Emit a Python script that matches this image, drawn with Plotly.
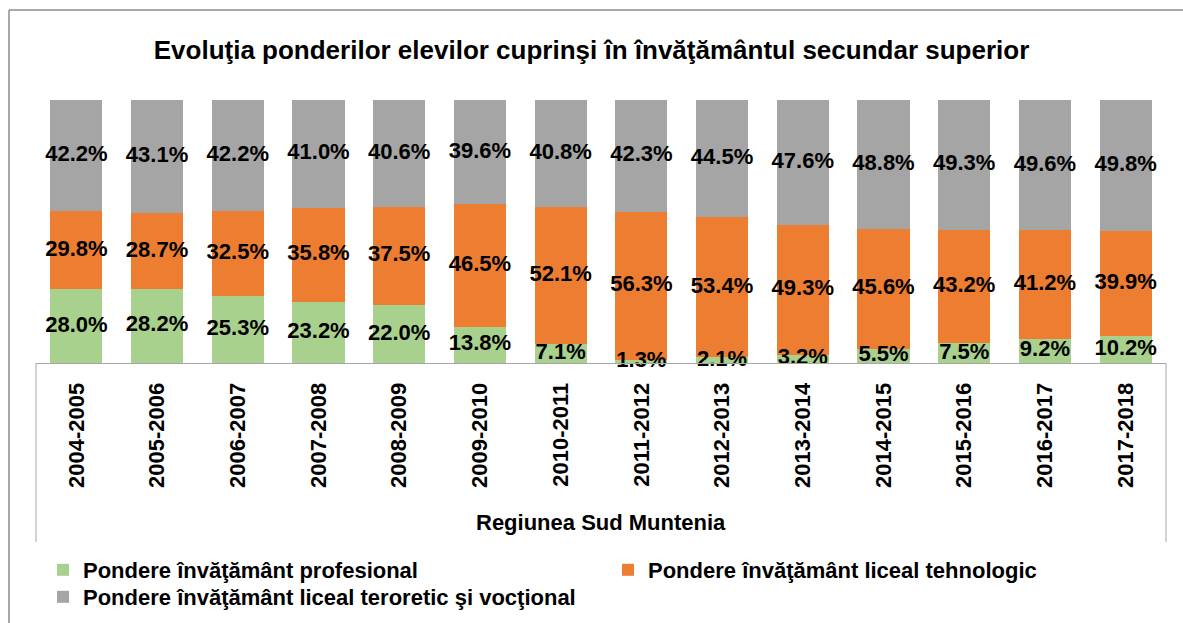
import plotly.graph_objects as go

years = ["2004-2005", "2005-2006", "2006-2007", "2007-2008", "2008-2009", "2009-2010",
         "2010-2011", "2011-2012", "2012-2013", "2013-2014", "2014-2015", "2015-2016",
         "2016-2017", "2017-2018"]
profesional = [28.0, 28.2, 25.3, 23.2, 22.0, 13.8, 7.1, 1.3, 2.1, 3.2, 5.5, 7.5, 9.2, 10.2]
tehnologic = [29.8, 28.7, 32.5, 35.8, 37.5, 46.5, 52.1, 56.3, 53.4, 49.3, 45.6, 43.2, 41.2, 39.9]
teoretic = [42.2, 43.1, 42.2, 41.0, 40.6, 39.6, 40.8, 42.3, 44.5, 47.6, 48.8, 49.3, 49.6, 49.8]

names = ["Pondere învăţământ profesional",
         "Pondere învăţământ liceal tehnologic",
         "Pondere învăţământ liceal teroretic şi vocţional"]
colors = ["#A9D18E", "#ED7D31", "#A5A5A5"]
title = "Evoluţia ponderilor elevilor cuprinşi în învăţământul secundar superior"
axis_title = "Regiunea Sud Muntenia"

FONT = "Liberation Sans, Arial, sans-serif"

W, H = 1183, 623
L, R, T, B = 36, 17, 100, 260
pw, ph = W - L - R, H - T - B

def px(x):
    return (x - L) / pw

def py(y):
    return (H - B - y) / ph

fig = go.Figure()
series = [profesional, tehnologic, teoretic]
legends = ["legend", "legend2", "legend3"]
for vals, name, col, lg in zip(series, names, colors, legends):
    fig.add_trace(go.Bar(x=years, y=vals, name=name, marker=dict(color=col, line=dict(width=0)),
                         width=0.645, legend=lg))

# data labels centred in each segment
base = [0.0] * len(years)
for vals in series:
    mids = [b + v / 2 for b, v in zip(base, vals)]
    fig.add_trace(go.Scatter(x=years, y=mids, mode="text", text=[f"{v:.1f}%" for v in vals],
                             textposition="middle center", showlegend=False, hoverinfo="skip",
                             cliponaxis=False,
                             textfont=dict(family=FONT, size=22, color="black", weight="bold")))
    base = [b + v for b, v in zip(base, vals)]

line_col = "#A6A6A6"
shapes = [
    dict(type="line", xref="paper", yref="paper", x0=px(9), x1=px(1190), y0=py(10), y1=py(10),
         line=dict(color="#8C8C8C", width=1.5)),
    dict(type="line", xref="paper", yref="paper", x0=px(9), x1=px(9), y0=py(10), y1=py(630),
         line=dict(color="#8C8C8C", width=1.5)),
    dict(type="line", xref="paper", yref="paper", x0=0, x1=0, y0=0, y1=py(542),
         line=dict(color=line_col, width=1)),
    dict(type="line", xref="paper", yref="paper", x0=1, x1=1, y0=0, y1=py(542),
         line=dict(color=line_col, width=1)),
]

legfont = dict(family=FONT, size=22, color="black", weight="bold")
def leg(x, y):
    return dict(orientation="h", x=px(x), y=py(y), xanchor="left", yanchor="top",
                font=legfont, bgcolor="rgba(0,0,0,0)", borderwidth=0)

fig.update_layout(
    width=W, height=H,
    margin=dict(l=L, r=R, t=T, b=B, autoexpand=False),
    barmode="stack",
    plot_bgcolor="white", paper_bgcolor="white",
    font=dict(family=FONT, color="black"),
    title=dict(text=title, x=px(601), xanchor="center", y=1 - 50 / H, yanchor="middle",
               font=dict(family=FONT, size=26, color="black", weight="bold")),
    xaxis=dict(showline=True, linecolor=line_col, linewidth=1, tickangle=-90, ticks="",
               ticklabelstandoff=10, showgrid=False, automargin=False,
               range=[-0.5, len(years) - 0.5],
               tickfont=dict(family=FONT, size=22, color="black", weight="bold")),
    yaxis=dict(visible=False, range=[0, 100], automargin=False),
    shapes=shapes,
    annotations=[dict(text=axis_title, xref="paper", yref="paper", x=px(601), y=py(522),
                      showarrow=False, xanchor="center", yanchor="middle",
                      font=dict(family=FONT, size=22, color="black", weight="bold"))],
    legend=leg(43, 549),
    legend2=leg(608, 549),
    legend3=leg(43, 576),
    showlegend=True,
)

fig.write_html("out.html", config={"displayModeBar": False},
               post_script="document.body.style.margin='0';document.body.style.overflow='hidden';")
